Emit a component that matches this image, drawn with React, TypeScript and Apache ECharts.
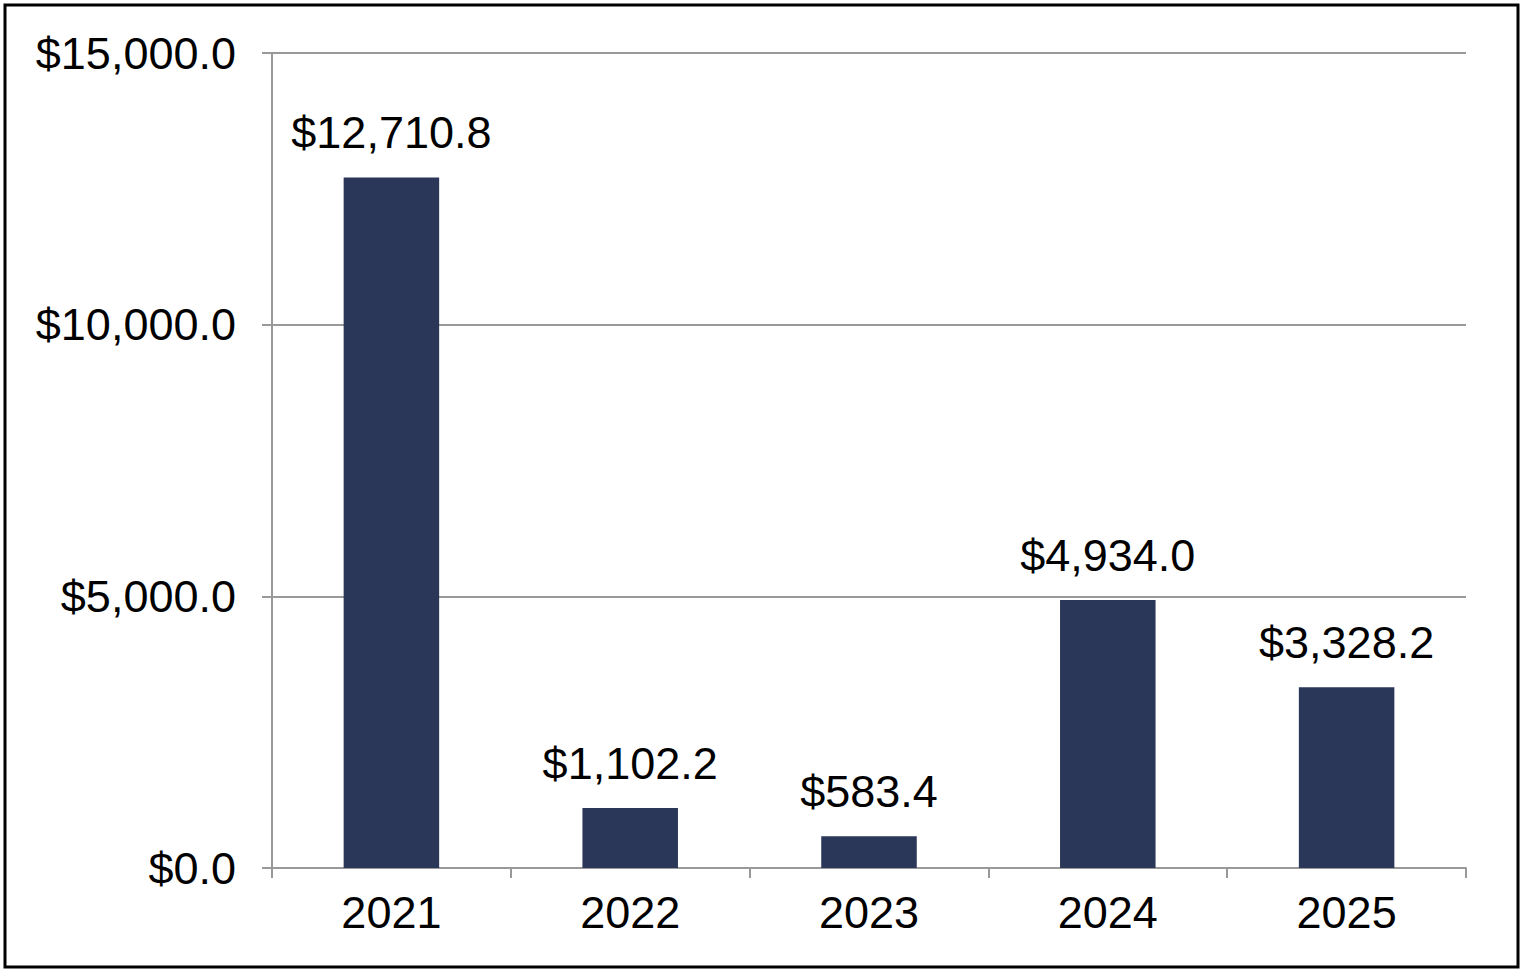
import React, { useEffect, useRef } from 'react';
import * as echarts from 'echarts';

const years = ['2021', '2022', '2023', '2024', '2025'];
const amounts = [12710.8, 1102.2, 583.4, 4934.0, 3328.2];
const yTicks = { min: 0, max: 15000, interval: 5000 };

const fmt = (v: number) =>
    '$' + v.toLocaleString('en-US', { minimumFractionDigits: 1, maximumFractionDigits: 1 });

const FONT = "'Liberation Sans', Arial, Helvetica, sans-serif";

export default function App() {
    const chartRef = useRef<HTMLDivElement>(null);

    useEffect(() => {
        const chart = echarts.init(chartRef.current!, undefined, { renderer: 'svg' });

        chart.setOption({
            animation: false,
            backgroundColor: '#ffffff',
            textStyle: { fontFamily: FONT },
            grid: { left: 272, right: 60, top: 53, bottom: 108, containLabel: false },
            graphic: [
                {
                    type: 'rect',
                    shape: { x: 5, y: 5, width: 1513, height: 962 },
                    style: { fill: 'none', stroke: '#000', lineWidth: 3 },
                    silent: true,
                },
            ],
            xAxis: {
                type: 'category',
                data: years,
                axisLine: { show: true, lineStyle: { color: '#999', width: 2 } },
                axisTick: { show: true, length: 10, lineStyle: { color: '#999', width: 2 } },
                axisLabel: { color: '#000', fontSize: 45, fontFamily: FONT, margin: 22 },
            },
            yAxis: {
                type: 'value',
                min: yTicks.min,
                max: yTicks.max,
                interval: yTicks.interval,
                axisLine: { show: true, lineStyle: { color: '#999', width: 2 } },
                axisTick: { show: true, length: 10, lineStyle: { color: '#999', width: 2 } },
                splitLine: { show: true, lineStyle: { color: '#999', width: 2 } },
                axisLabel: {
                    color: '#000',
                    fontSize: 45,
                    fontFamily: FONT,
                    margin: 36,
                    formatter: (v: number) => fmt(v),
                },
            },
            series: [
                {
                    type: 'bar',
                    data: amounts,
                    barWidth: '40%',
                    itemStyle: { color: '#2B3759' },
                    label: {
                        show: true,
                        position: 'top',
                        distance: 22,
                        color: '#000',
                        fontSize: 45,
                        fontFamily: FONT,
                        formatter: (p: any) => fmt(p.value),
                    },
                },
            ],
        });

        return () => {
            chart.dispose();
        };
    }, []);

    return (
        <div
            ref={chartRef}
            style={{ position: 'absolute', left: 0, top: 0, width: 1526, height: 976, background: '#fff' }}
        />
    );
}
